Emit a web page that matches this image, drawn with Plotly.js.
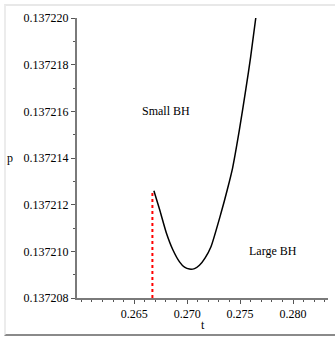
<!DOCTYPE html>
<html>
<head>
<meta charset="utf-8">
<script src="https://cdn.plot.ly/plotly-3.0.1.min.js"></script>
<style>
html,body{margin:0;padding:0;background:#fff;}
#wrap{position:relative;width:335px;height:338px;}
#chart{position:absolute;left:0;top:0;width:335px;height:338px;}
#frame{position:absolute;left:4px;top:4px;width:331px;height:332px;box-sizing:border-box;
  border-top:2px solid #e8e8e8;border-left:2px solid #ececec;border-bottom:2px solid #8a8a8a;pointer-events:none;z-index:5;}
</style>
</head>
<body>
<div id="wrap"><div id="chart"></div><div id="frame"></div></div>
<script>
// Curve p(t)
var curveT = [0.26686, 0.26740, 0.26803, 0.26865, 0.26928, 0.26975, 0.27022, 0.27070, 0.27116, 0.27170, 0.27226, 0.27320, 0.27379, 0.27429, 0.27492, 0.27555, 0.27600, 0.27648];
var curveP = [0.1372126, 0.13721179, 0.13721080, 0.13721007, 0.13720955, 0.13720932, 0.13720924, 0.13720926, 0.13720940, 0.13720972, 0.13721021, 0.13721164, 0.13721264, 0.13721357, 0.13721517, 0.13721697, 0.13721834, 0.137220];
// Red dotted vertical line
var redT = [0.26672, 0.26672];
var redP = [0.137208, 0.1372125];
// Tick labels
var xTickVals = [0.265, 0.270, 0.275, 0.280];
var xTickText = ["0.265", "0.270", "0.275", "0.280"];
var yTickVals = [0.137208, 0.137210, 0.137212, 0.137214, 0.137216, 0.137218, 0.137220];
var yTickText = ["0.137208", "0.137210", "0.137212", "0.137214", "0.137216", "0.137218", "0.137220"];
// Labels
var labelText = ["Small BH", "Large BH"];
var labelT = [0.26801, 0.27811];
var labelP = [0.137216, 0.137210];

var font = {family: "Liberation Serif", size: 12, color: "#000"};

var traces = [
  {x: redT, y: redP, type: "scatter", mode: "lines", line: {color: "#ff0000", width: 2, dash: "3px,3px"}, hoverinfo: "skip"},
  {x: curveT, y: curveP, type: "scatter", mode: "lines", line: {color: "#000", width: 1.5, shape: "spline", smoothing: 0.6}, hoverinfo: "skip"}
];

var annotations = labelText.map(function (s, i) {
  return {x: labelT[i], y: labelP[i], xref: "x", yref: "y", text: s, showarrow: false, font: font, xanchor: "center", yanchor: "middle"};
});
annotations.push({x: -0.267, y: 0.5, xref: "paper", yref: "paper", text: "p", showarrow: false, font: font, xanchor: "center", yanchor: "middle"});
annotations.push({x: 0.5, y: -0.0964, xref: "paper", yref: "paper", text: "t", showarrow: false, font: font, xanchor: "center", yanchor: "middle"});

var layout = {
  width: 335, height: 338,
  margin: {l: 77, r: 7, t: 18, b: 40, pad: 0},
  paper_bgcolor: "#fff", plot_bgcolor: "#fff",
  showlegend: false,
  font: font,
  xaxis: {
    range: [0.2596, 0.2833], showgrid: false, zeroline: false,
    showline: true, linecolor: "#7a7a7a", linewidth: 2,
    tickvals: xTickVals, ticktext: xTickText, ticks: "outside", ticklen: 4, tickwidth: 1, tickcolor: "#555",
    tickfont: font,
    minor: {ticks: "outside", ticklen: 2, tickwidth: 1, tickcolor: "#555", dtick: 0.001, tick0: 0.265}
  },
  yaxis: {
    range: [0.137208, 0.137220], showgrid: false, zeroline: false,
    showline: true, linecolor: "#7a7a7a", linewidth: 2,
    tickvals: yTickVals, ticktext: yTickText, ticks: "outside", ticklen: 4, tickwidth: 1, tickcolor: "#555",
    tickfont: font,
    minor: {ticks: "outside", ticklen: 2, tickwidth: 1, tickcolor: "#555", dtick: 0.000001, tick0: 0.137208}
  },
  annotations: annotations
};

Plotly.newPlot("chart", traces, layout, {displayModeBar: false, staticPlot: true});
</script>
</body>
</html>
